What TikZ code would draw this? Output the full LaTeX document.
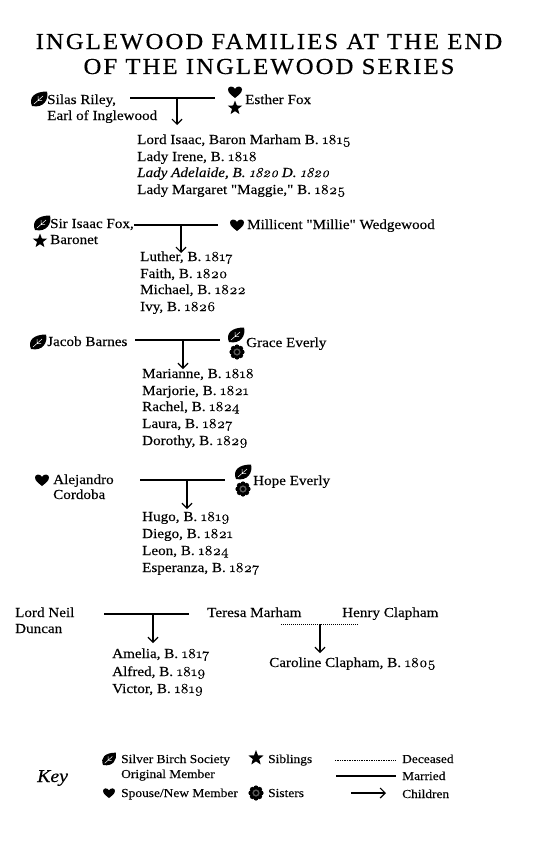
\documentclass[tikz,border=0pt]{standalone}
\usepackage{fontspec}
\setmainfont{Liberation Serif}[Ligatures=TeXOff,FakeStretch=1.1,FakeBold=0.25]
\newfontfamily\yrfont{Latin Modern Roman}[Numbers=OldStyle,FakeBold=0.4,FakeStretch=1.1]
\newfontfamily\titlefont{Liberation Serif}[LetterSpace=9,FakeStretch=1.08,FakeBold=0.5]
\newcommand{\yr}[1]{{\yrfont #1}}
\usetikzlibrary{arrows.meta,shapes.geometric}
\tikzset{
txt/.style={anchor=base west,inner sep=0pt,font=\fontsize{13.75}{15}\selectfont},
keytxt/.style={anchor=base west,inner sep=0pt,font=\fontsize{12.2}{14}\selectfont},
wed/.style={line width=1.3pt},
kid/.style={line width=1.3pt,-{Straight Barb[length=5pt,width=10pt,line width=1.2pt]}},
dots/.style={line width=1pt,dash pattern=on 1pt off 1pt},
starmark/.style={star,star points=5,star point ratio=2.4,fill=black,inner sep=0pt,minimum size=15pt},
leafmark/.pic={
\fill[black](-7,7)..controls(-10.5,-1)and(-5,-7.5)..(8,-7.5)..controls(10,0)and(5,9.5)..(-7,7)--cycle;
\draw[white,line width=0.5pt](-5,5)--(4,-3)(-1,1.5)--(-1,-3)(-1,1.5)--(3,1.5);
},
heartmark/.pic={
\fill[black](0,6)..controls(-3,3.5)and(-7,1)..(-7,-2.5)..controls(-7,-6)and(-2,-6.5)..(0,-3.2)..controls(2,-6.5)and(7,-6)..(7,-2.5)..controls(7,1)and(3,3.5)..(0,6)--cycle;
},
rosemark/.pic={
\foreach \a in {0,45,...,315}{\fill[black](\a:5)circle[radius=2.6];}
\fill[black](0,0)circle[radius=5.5];
\fill[black!65](0,0)circle[radius=3.6];
\fill[black](0,0)circle[radius=2];
},
}
\begin{document}
\begin{tikzpicture}[x=1pt,y=-1pt]
\useasboundingbox(0,0)rectangle(533,843);
% title
\node[inner sep=0pt,anchor=base,font=\titlefont\fontsize{22.9}{25}\selectfont](title1)at(269,49){INGLEWOOD FAMILIES AT THE END};
\node[inner sep=0pt,anchor=base,font=\titlefont\fontsize{22.9}{25}\selectfont](title2)at(269,74){OF THE INGLEWOOD SERIES};
% Riley
\pic(leaf1)at(39,99){leafmark};
\node[txt](silas)at(47,104){Silas Riley,};
\node[txt](earl)at(47,120){Earl of Inglewood};
\pic(heart1)at(235,92){heartmark};
\node[starmark](star1)at(235,108){};
\node[txt](esther)at(245,104){Esther Fox};
\coordinate(rileyL)at(130,98);
\coordinate(rileyR)at(215,98);
\coordinate(rileyT)at(177,98);
\coordinate(rileyB)at(177,125);
\draw[wed](rileyL)--(rileyR);
\draw[kid](rileyT)--(rileyB);
\node[txt](rileya)at(137,144){Lord Isaac, Baron Marham B. \yr{1815}};
\node[txt](rileyb)at(137,161){Lady Irene, B. \yr{1818}};
\node[txt](rileyc)at(137,177){\itshape Lady Adelaide, B. \yr{1820} D. \yr{1820}};
\node[txt](rileyd)at(137,194){Lady Margaret "Maggie," B. \yr{1825}};
% Fox
\pic(leaf2)at(42,223){leafmark};
\node[starmark](star2)at(40,241){};
\node[txt](isaac)at(50,228){Sir Isaac Fox,};
\node[txt](baronet)at(50,244){Baronet};
\pic(heart2)at(237,225){heartmark};
\node[txt](millicent)at(247,229){Millicent "Millie" Wedgewood};
\coordinate(foxL)at(134,225);
\coordinate(foxR)at(218,225);
\coordinate(foxT)at(181,225);
\coordinate(foxB)at(181,253);
\draw[wed](foxL)--(foxR);
\draw[kid](foxT)--(foxB);
\node[txt](foxa)at(140,261){Luther, B. \yr{1817}};
\node[txt](foxb)at(140,278){Faith, B. \yr{1820}};
\node[txt](foxc)at(140,294){Michael, B. \yr{1822}};
\node[txt](foxd)at(140,311){Ivy, B. \yr{1826}};
% Barnes
\pic(leaf3)at(38,342){leafmark};
\node[txt](jacob)at(47,346){Jacob Barnes};
\pic(leaf4)at(236,335){leafmark};
\pic(rose1)at(237,352){rosemark};
\node[txt](grace)at(246,347){Grace Everly};
\coordinate(barnesL)at(135,340);
\coordinate(barnesR)at(220,340);
\coordinate(barnesT)at(183,340);
\coordinate(barnesB)at(183,369);
\draw[wed](barnesL)--(barnesR);
\draw[kid](barnesT)--(barnesB);
\node[txt](barnesa)at(142,378){Marianne, B. \yr{1818}};
\node[txt](barnesb)at(142,395){Marjorie, B. \yr{1821}};
\node[txt](barnesc)at(142,411){Rachel, B. \yr{1824}};
\node[txt](barnesd)at(142,428){Laura, B. \yr{1827}};
\node[txt](barnese)at(142,445){Dorothy, B. \yr{1829}};
% Cordoba
\pic(heart3)at(42,480){heartmark};
\node[txt](alejandro)at(53,484){Alejandro};
\node[txt](cordoba)at(53,499){Cordoba};
\pic(leaf5)at(243,472){leafmark};
\pic(rose2)at(243,489){rosemark};
\node[txt](hope)at(253,485){Hope Everly};
\coordinate(cordobaL)at(140,480);
\coordinate(cordobaR)at(225,480);
\coordinate(cordobaT)at(187,480);
\coordinate(cordobaB)at(187,509);
\draw[wed](cordobaL)--(cordobaR);
\draw[kid](cordobaT)--(cordobaB);
\node[txt](cordobaa)at(142,521){Hugo, B. \yr{1819}};
\node[txt](cordobab)at(142,538){Diego, B. \yr{1821}};
\node[txt](cordobac)at(142,555){Leon, B. \yr{1824}};
\node[txt](cordobad)at(142,572){Esperanza, B. \yr{1827}};
% Duncan
\node[txt](neil)at(15,617){Lord Neil};
\node[txt](duncan)at(15,633){Duncan};
\coordinate(duncanL)at(104,614);
\coordinate(duncanR)at(189,614);
\coordinate(duncanT)at(153,614);
\coordinate(duncanB)at(153,643);
\draw[wed](duncanL)--(duncanR);
\draw[kid](duncanT)--(duncanB);
\node[txt](duncana)at(112,658){Amelia, B. \yr{1817}};
\node[txt](duncanb)at(112,676){Alfred, B. \yr{1819}};
\node[txt](duncanc)at(112,693){Victor, B. \yr{1819}};
% Clapham
\node[txt](teresa)at(207,617){Teresa Marham};
\node[txt](henry)at(342,617){Henry Clapham};
\coordinate(claphamL)at(281,624);
\coordinate(claphamR)at(358,624);
\coordinate(claphamT)at(320,624);
\coordinate(claphamB)at(320,653);
\draw[dots](claphamL)--(claphamR);
\draw[kid](claphamT)--(claphamB);
\node[txt](caroline)at(269,667){Caroline Clapham, B. \yr{1805}};
% key
\node[inner sep=0pt,anchor=base west,font=\itshape\fontsize{18}{20}\selectfont](key)at(37,782){Key};
\pic[scale=0.85](leafk)at(109,759){leafmark};
\node[keytxt](silver)at(121,763){Silver Birch Society};
\node[keytxt](original)at(121,778){Original Member};
\pic[scale=0.85](heartk)at(109,793){heartmark};
\node[keytxt](spouse)at(121,797){Spouse/New Member};
\node[starmark,minimum size=16pt](stark)at(256,758){};
\node[keytxt](siblings)at(268,763){Siblings};
\pic(rosek)at(256,793){rosemark};
\node[keytxt](sisters)at(268,797){Sisters};
\coordinate(deadL)at(335,760);
\coordinate(deadR)at(396,760);
\coordinate(marL)at(336,776);
\coordinate(marR)at(396,776);
\coordinate(kidL)at(351,793);
\coordinate(kidR)at(386,793);
\draw[line width=0.7pt,dash pattern=on 0.8pt off 0.9pt](deadL)--(deadR);
\draw[wed](marL)--(marR);
\draw[kid,line width=1.6pt](kidL)--(kidR);
\node[keytxt](deceased)at(402,763){Deceased};
\node[keytxt](married)at(402,780){Married};
\node[keytxt](children)at(402,798){Children};
\end{tikzpicture}
\end{document}
